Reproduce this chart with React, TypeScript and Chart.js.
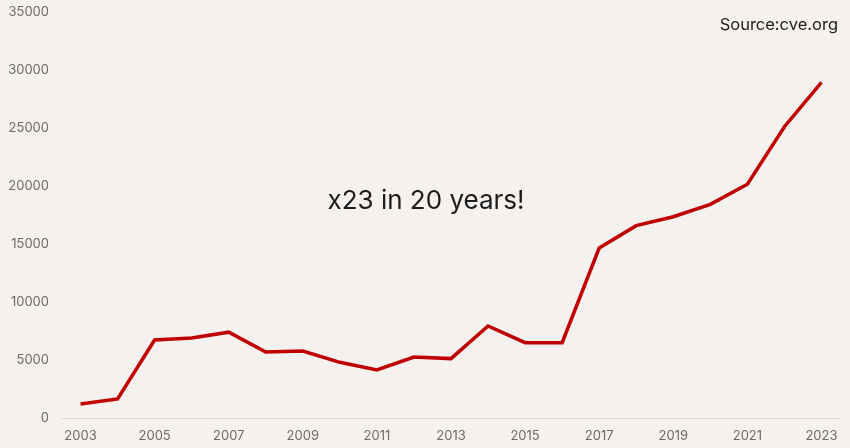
import React, { useEffect, useRef } from "react";
import { Chart, registerables } from "chart.js";

Chart.register(...registerables);

const years = ["2003","2004","2005","2006","2007","2008","2009","2010","2011","2012","2013","2014","2015","2016","2017","2018","2019","2020","2021","2022","2023"];
const cveCounts = [1200, 1640, 6720, 6900, 7400, 5690, 5780, 4800, 4140, 5260, 5120, 7930, 6490, 6490, 14650, 16580, 17350, 18420, 20150, 25110, 28940];
const yTicks = [0, 5000, 10000, 15000, 20000, 25000, 30000, 35000];
const annotationText = "x23 in 20 years!";
const sourceText = "Source:cve.org";

const BG = "#f5f1ee";
const FONT = "Inter, 'DejaVu Sans', sans-serif";

export default function App() {
  const ref = useRef<HTMLCanvasElement | null>(null);
  useEffect(() => {
    document.body.style.margin = "0";
    document.body.style.background = BG;
    const textPlugin = {
      id: "texts",
      afterDraw(chart: any) {
        const ctx = chart.ctx;
        ctx.save();
        ctx.fillStyle = "#1c1c1c";
        ctx.textBaseline = "middle";
        ctx.textAlign = "center";
        ctx.font = `26px ${FONT}`;
        ctx.fillText(annotationText, 426, 201);
        ctx.textAlign = "right";
        ctx.font = `16.5px ${FONT}`;
        ctx.fillText(sourceText, 838, 25);
        ctx.restore();
      },
    };
    const bgPlugin = {
      id: "bg",
      beforeDraw(chart: any) {
        const ctx = chart.ctx;
        ctx.save();
        ctx.fillStyle = BG;
        ctx.fillRect(0, 0, chart.width, chart.height);
        ctx.restore();
      },
    };
    const chart = new Chart(ref.current!, {
      type: "line",
      data: {
        labels: years,
        datasets: [
          {
            data: cveCounts,
            borderColor: "#c00000",
            borderWidth: 3.5,
            pointRadius: 0,
            tension: 0,
            fill: false,
          },
        ],
      },
      options: {
        animation: false,
        responsive: false,
        maintainAspectRatio: false,
        layout: { padding: { top: 12, right: 10, left: 0, bottom: 0 } },
        plugins: { legend: { display: false }, tooltip: { enabled: false } },
        scales: {
          x: {
            offset: true,
            grid: { display: false, drawTicks: false },
            border: { display: true, color: "#d9d9d9", width: 1 },
            ticks: {
              color: "#6b6b6b",
              font: { family: FONT, size: 13 },
              maxRotation: 0,
              autoSkip: false,
              padding: 10,
              callback: (v: any, i: number) => (i % 2 === 0 ? years[i] : ""),
            },
            afterFit: (s: any) => { s.height = 30; s.paddingLeft = 0; s.paddingRight = 0; },
          },
          y: {
            min: 0,
            max: 35000,
            afterBuildTicks: (s: any) => { s.ticks = yTicks.map((v) => ({ value: v })); },
            grid: { display: false, drawTicks: false },
            border: { display: false },
            ticks: {
              color: "#6b6b6b",
              font: { family: FONT, size: 13 },
              padding: 13,
              callback: (v: any) => String(v),
            },
            afterFit: (s: any) => { s.width = 62; s.paddingTop = 0; s.paddingBottom = 0; },
          },
        },
      },
      plugins: [bgPlugin, textPlugin],
    });
    return () => chart.destroy();
  }, []);
  return (
    <div style={{ width: 850, height: 448, background: BG }}>
      <canvas ref={ref} width={850} height={448} />
    </div>
  );
}
